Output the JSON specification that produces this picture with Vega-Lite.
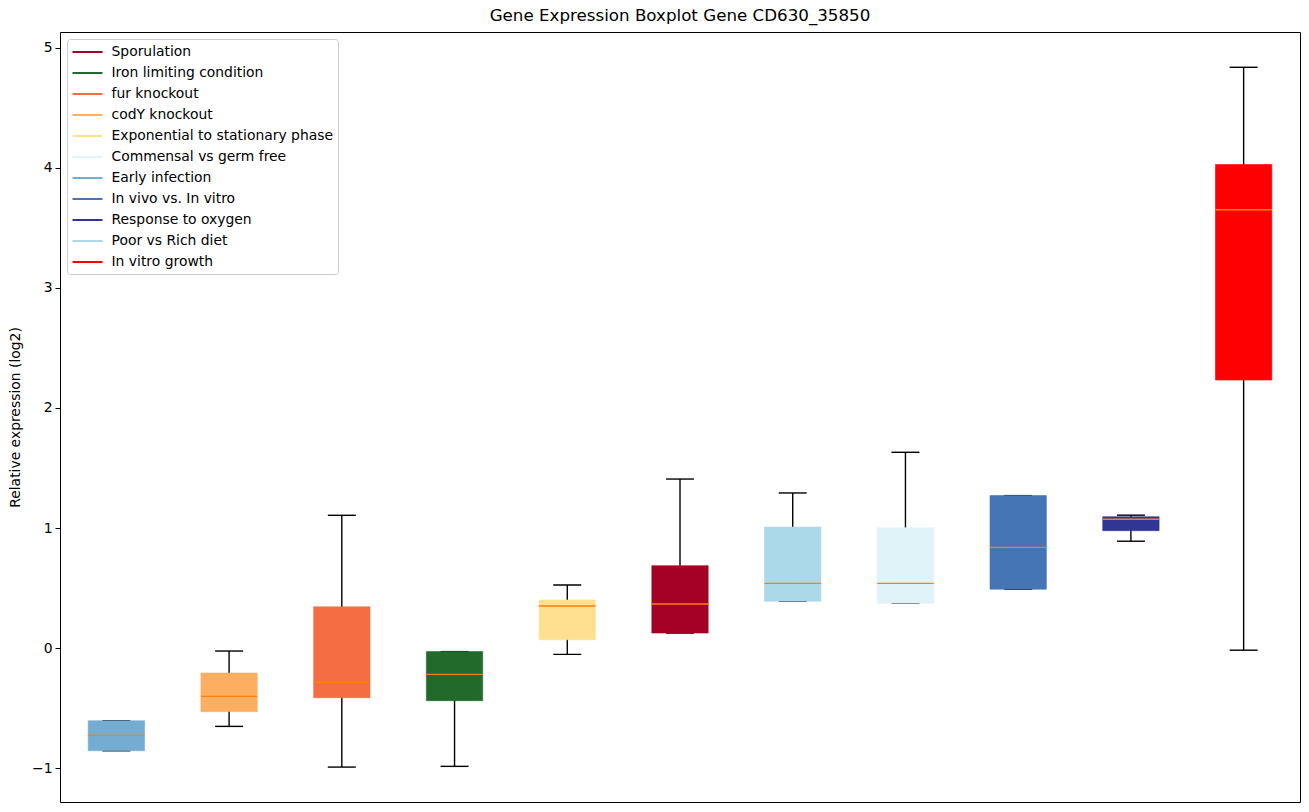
{
  "$schema": "https://vega.github.io/schema/vega-lite/v6.json",
  "width": 1240,
  "height": 770,
  "autosize": {"type": "none"},
  "padding": {"left": 60, "top": 32, "right": 9, "bottom": 10},
  "background": "white",
  "title": {"text": "Gene Expression Boxplot Gene CD630_35850", "fontSize": 16.7, "fontWeight": "normal", "font": "DejaVu Sans", "color": "black", "offset": 7},
  "config": {
    "view": {"stroke": "black", "strokeWidth": 1},
    "font": "DejaVu Sans",
    "axis": {"labelFont": "DejaVu Sans", "titleFont": "DejaVu Sans"},
    "legend": {
      "labelFont": "DejaVu Sans",
      "orient": "none",
      "legendX": 7,
      "legendY": 7,
      "symbolType": "M-1,0H3",
      "symbolSize": 225,
      "symbolStrokeWidth": 2,
      "labelFontSize": 13.9,
      "labelColor": "black",
      "labelOffset": 23,
      "labelLimit": 400,
      "rowPadding": 5,
      "padding": 4.5,
      "fillColor": "white",
      "strokeColor": "#cccccc",
      "cornerRadius": 3
    }
  },
  "data": {"values": [
    {"name": "Early infection", "lo": -0.856, "q1": -0.856, "med": -0.728, "q3": -0.606, "hi": -0.606},
    {"name": "codY knockout", "lo": -0.653, "q1": -0.53, "med": -0.403, "q3": -0.208, "hi": -0.025},
    {"name": "fur knockout", "lo": -0.992, "q1": -0.414, "med": -0.286, "q3": 0.343, "hi": 1.106},
    {"name": "Iron limiting condition", "lo": -0.986, "q1": -0.439, "med": -0.219, "q3": -0.03, "hi": -0.03},
    {"name": "Exponential to stationary phase", "lo": -0.053, "q1": 0.069, "med": 0.35, "q3": 0.4, "hi": 0.525},
    {"name": "Sporulation", "lo": 0.125, "q1": 0.125, "med": 0.367, "q3": 0.686, "hi": 1.408},
    {"name": "Poor vs Rich diet", "lo": 0.39, "q1": 0.39, "med": 0.539, "q3": 1.008, "hi": 1.292},
    {"name": "Commensal vs germ free", "lo": 0.373, "q1": 0.373, "med": 0.539, "q3": 1.003, "hi": 1.631},
    {"name": "In vivo vs. In vitro", "lo": 0.49, "q1": 0.49, "med": 0.839, "q3": 1.27, "hi": 1.27},
    {"name": "Response to oxygen", "lo": 0.89, "q1": 0.978, "med": 1.073, "q3": 1.094, "hi": 1.107},
    {"name": "In vitro growth", "lo": -0.018, "q1": 2.233, "med": 3.652, "q3": 4.029, "hi": 4.839}
  ]},
  "encoding": {
    "x": {
      "field": "name", "type": "nominal",
      "sort": ["Early infection", "codY knockout", "fur knockout", "Iron limiting condition", "Exponential to stationary phase", "Sporulation", "Poor vs Rich diet", "Commensal vs germ free", "In vivo vs. In vitro", "Response to oxygen", "In vitro growth"],
      "scale": {"type": "band", "paddingInner": 0.5, "paddingOuter": 0.25},
      "axis": null
    }
  },
  "layer": [
    {
      "mark": {"type": "rule", "color": "black", "strokeWidth": 1.4},
      "encoding": {
        "y": {"field": "lo", "type": "quantitative",
          "scale": {"domain": [-1.283, 5.133], "nice": false, "zero": false},
          "axis": {"title": "Relative expression (log2)", "values": [-1, 0, 1, 2, 3, 4, 5], "format": "d", "grid": false, "domain": false, "tickColor": "black", "tickSize": 5, "tickWidth": 1, "labelFontSize": 13.9, "labelColor": "black", "labelPadding": 3, "titleFontSize": 13.9, "titleFontWeight": "normal", "titleColor": "black", "titlePadding": 9}},
        "y2": {"field": "hi"}
      }
    },
    {
      "mark": {"type": "tick", "color": "black", "size": 28, "thickness": 1.4, "opacity": 1},
      "encoding": {"y": {"field": "lo", "type": "quantitative"}}
    },
    {
      "mark": {"type": "tick", "color": "black", "size": 28, "thickness": 1.4, "opacity": 1},
      "encoding": {"y": {"field": "hi", "type": "quantitative"}}
    },
    {
      "mark": {"type": "bar", "strokeWidth": 0.6, "opacity": 1},
      "encoding": {
        "y": {"field": "q1", "type": "quantitative"},
        "y2": {"field": "q3"},
        "fill": {
          "field": "name", "type": "nominal",
          "scale": {
            "domain": ["Sporulation", "Iron limiting condition", "fur knockout", "codY knockout", "Exponential to stationary phase", "Commensal vs germ free", "Early infection", "In vivo vs. In vitro", "Response to oxygen", "Poor vs Rich diet", "In vitro growth"],
            "range": ["#a50026", "#216a2c", "#f46d43", "#fdae61", "#fee090", "#e0f3f8", "#74add1", "#4575b4", "#313695", "#abd9e9", "#ff0000"]
          },
          "legend": {"title": null}
        },
        "stroke": {
          "field": "name", "type": "nominal",
          "scale": {
            "domain": ["Sporulation", "Iron limiting condition", "fur knockout", "codY knockout", "Exponential to stationary phase", "Commensal vs germ free", "Early infection", "In vivo vs. In vitro", "Response to oxygen", "Poor vs Rich diet", "In vitro growth"],
            "range": ["#a50026", "#216a2c", "#f46d43", "#fdae61", "#fee090", "#e0f3f8", "#74add1", "#4575b4", "#313695", "#abd9e9", "#ff0000"]
          },
          "legend": {"title": null}
        }
      }
    },
    {
      "mark": {"type": "tick", "color": "#ff7f0e", "size": 56.4, "thickness": 1.3, "opacity": 1},
      "encoding": {"y": {"field": "med", "type": "quantitative"}}
    }
  ]
}
